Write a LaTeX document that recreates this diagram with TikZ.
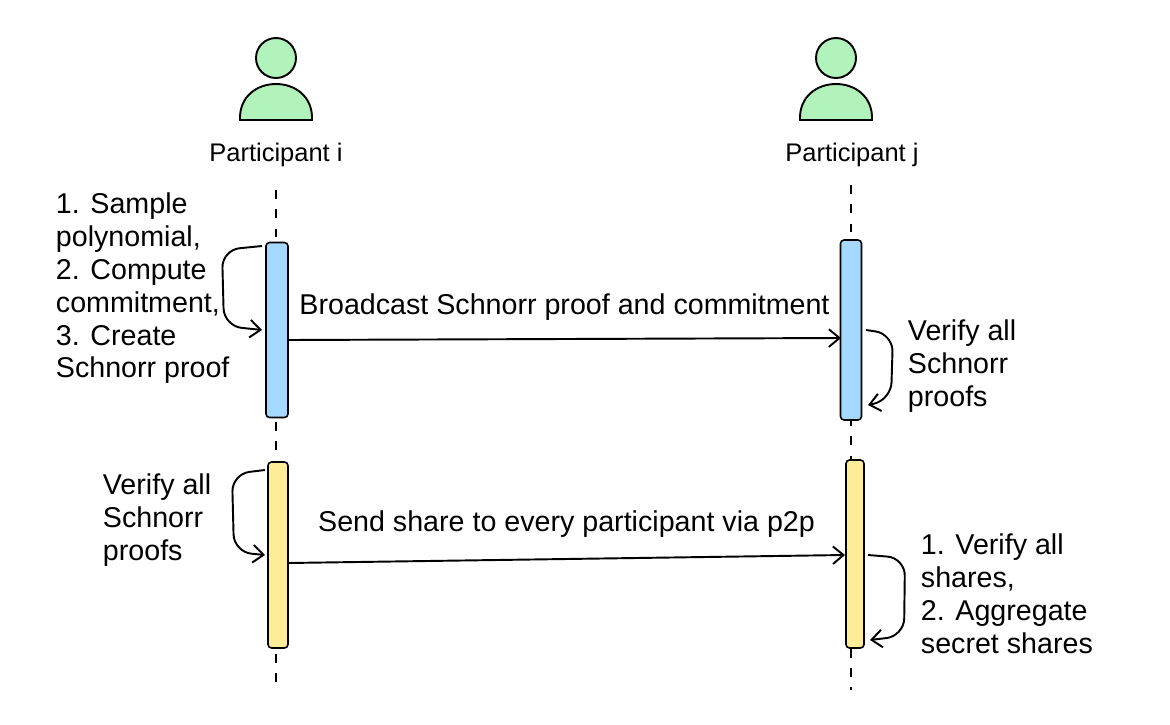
\documentclass[tikz,border=0pt]{standalone}
\usepackage{fontspec}
\setmainfont{Liberation Sans}
\usetikzlibrary{arrows.meta}
\definecolor{grn}{HTML}{B2F2BB}
\definecolor{blu}{HTML}{A5D8FF}
\definecolor{yel}{HTML}{FFEC99}
\begin{document}
\begin{tikzpicture}[x=0.02cm,y=-0.02cm,line width=1.1pt,
  txt/.style={align=left,font=\fontsize{16.3}{18.7}\selectfont,inner sep=0pt},
  lbl/.style={font=\fontsize{14.5}{16}\selectfont},
  life/.style={dash pattern=on 5pt off 6pt,line width=0.9pt},
  arr/.style={-{Straight Barb[length=6pt,width=10pt]}},
  loop/.style={arr,rounded corners=10pt},
  bar/.style={draw,rounded corners=2pt,line width=0.9pt}]
\useasboundingbox (0,0) rectangle (1170,724);
% actors
\foreach \x in {276,836}{
  \draw[fill=grn] (\x,58) circle (20);
  \draw[fill=grn] (\x-36,120) .. controls (\x-38,72) and (\x+38,72) .. (\x+36,120) -- cycle;
}
\node[lbl] (pi) at (276,155) {Participant i};
\node[lbl] (pj) at (852,155) {Participant j};
% lifelines
\draw[life] (276,190) -- (276,690);
\draw[life] (851,185) -- (851,690);
% bars
\node[bar,fill=blu,minimum width=0.44cm,minimum height=3.5cm] (bi) at (277,330) {};
\node[bar,fill=blu,minimum width=0.42cm,minimum height=3.6cm] (bj) at (851,330) {};
\node[bar,fill=yel,minimum width=0.40cm,minimum height=3.72cm] (yi) at (278,555) {};
\node[bar,fill=yel,minimum width=0.36cm,minimum height=3.76cm] (yj) at (855,554) {};
% messages
\coordinate (a1) at (288,340); \coordinate (b1) at (841,338);
\draw[arr] (a1) -- (b1) node[midway,above=10pt,txt] {Broadcast Schnorr proof and commitment};
\coordinate (a2) at (288,563); \coordinate (b2) at (845,555);
\draw[arr] (a2) -- (b2) node[midway,above=12pt,txt] {Send share to every participant via p2p};
% self loops
\coordinate (l1s) at (262,246); \coordinate (l1e) at (262,330);
\draw[loop] (l1s) -- (222,250) -- (224,326) -- (l1e);
\coordinate (l2s) at (866,330); \coordinate (l2e) at (868,405);
\draw[loop] (l2s) -- (893,334) -- (891,400) -- (l2e);
\coordinate (l3s) at (265,470); \coordinate (l3e) at (265,555);
\draw[loop] (l3s) -- (232,474) -- (234,552) -- (l3e);
\coordinate (l4s) at (868,555); \coordinate (l4e) at (870,640);
\draw[loop] (l4s) -- (905,558) -- (904,636) -- (l4e);
% notes
\node[txt,anchor=north west] (n1) at (55,192) {1. Sample\\polynomial,\\2. Compute\\commitment,\\3. Create\\Schnorr proof};
\node[txt,anchor=north west] (n2) at (907,319) {Verify all\\Schnorr\\proofs};
\node[txt,anchor=north west] (n3) at (102,473) {Verify all\\Schnorr\\proofs};
\node[txt,anchor=north west] (n4) at (920,533) {1. Verify all\\shares,\\2. Aggregate\\secret shares};
\end{tikzpicture}
\end{document}
